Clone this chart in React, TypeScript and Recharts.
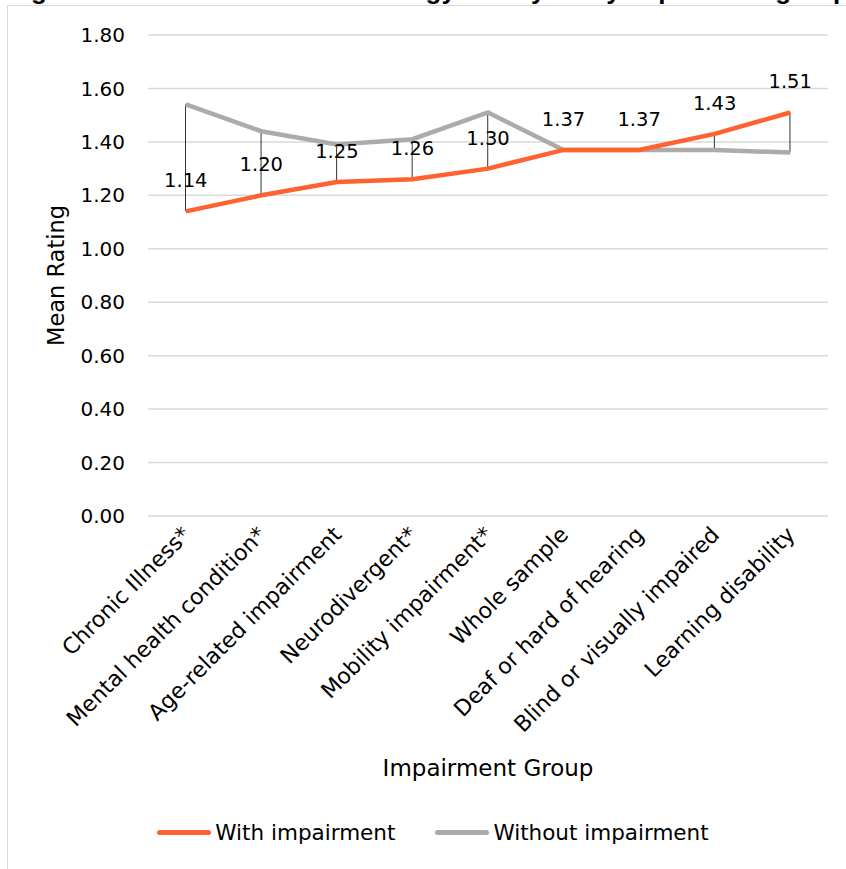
import { Bar, CartesianGrid, ComposedChart, LabelList, Legend, Line, XAxis, YAxis } from "recharts";

const groups = [
  "Chronic Illness*",
  "Mental health condition*",
  "Age-related impairment",
  "Neurodivergent*",
  "Mobility impairment*",
  "Whole sample",
  "Deaf or hard of hearing",
  "Blind or visually impaired",
  "Learning disability",
];
const withImpairment = [1.14, 1.2, 1.25, 1.26, 1.3, 1.37, 1.37, 1.43, 1.51];
const withoutImpairment = [1.54, 1.44, 1.39, 1.41, 1.51, 1.37, 1.37, 1.37, 1.36];
const yTicks = [0, 0.2, 0.4, 0.6, 0.8, 1.0, 1.2, 1.4, 1.6, 1.8];

const FONT = "'DejaVu Sans', Verdana, sans-serif";
const ORANGE = "#ff6130";
const GREY = "#aeaaaa";

const rows = groups.map((g, i) => ({
  group: g,
  withImp: withImpairment[i],
  withoutImp: withoutImpairment[i],
  span: [
    Math.min(withImpairment[i], withoutImpairment[i]),
    Math.max(withImpairment[i], withoutImpairment[i]),
  ],
}));

const GroupTick = (props: any) => {
  const { x, y, payload } = props;
  const ax = x + 6;
  const ay = y + 12;
  return (
    <text
      x={ax}
      y={ay}
      transform={`rotate(-45, ${ax}, ${ay})`}
      textAnchor="end"
      fill="#000"
      fontSize={22}
      fontFamily={FONT}
    >
      {payload.value}
    </text>
  );
};

const LegendBox = () => (
  <div
    style={{
      display: "flex",
      justifyContent: "center",
      alignItems: "center",
      fontFamily: FONT,
      fontSize: 21.5,
      color: "#000",
      paddingLeft: 38,
    }}
  >
    <span style={{ display: "inline-block", width: 54, height: 5, borderRadius: 3, background: ORANGE, marginRight: 4 }} />
    <span style={{ marginRight: 40 }}>With impairment</span>
    <span style={{ display: "inline-block", width: 54, height: 5, borderRadius: 3, background: GREY, marginRight: 4 }} />
    <span>Without impairment</span>
  </div>
);

export default function App() {
  return (
    <div style={{ position: "absolute", left: 0, top: 0, width: 846, height: 869, overflow: "hidden", background: "#fff" }}>
      {/* title sits mostly above the visible area */}
      <div
        style={{
          position: "absolute",
          left: 8,
          top: -25,
          whiteSpace: "nowrap",
          fontFamily: "'Liberation Sans', Arial, sans-serif",
          fontWeight: 700,
          fontSize: 26,
          lineHeight: "30px",
        }}
      >
        Figure 5: Mean score for technology use by every impairment group
      </div>
      <div
        style={{
          position: "absolute",
          left: 7,
          top: 5,
          width: 860,
          height: 880,
          borderLeft: "1.5px solid #d9d9d9",
          borderTop: "1.5px solid #d9d9d9",
        }}
      />
      <div style={{ position: "absolute", left: 0, top: 0 }}>
        <ComposedChart
          width={846}
          height={869}
          data={rows}
          margin={{ top: 35, right: 18, bottom: 9, left: 0 }}
        >
          <CartesianGrid vertical={false} stroke="#d9d9d9" strokeWidth={1.5} />
          <XAxis
            dataKey="group"
            interval={0}
            height={304}
            axisLine={false}
            tickLine={false}
            tick={<GroupTick />}
            label={{
              value: "Impairment Group",
              position: "insideBottom",
              offset: 44,
              fill: "#000",
              fontSize: 23,
              fontFamily: FONT,
            }}
          />
          <YAxis
            width={148}
            domain={[0, 1.8]}
            ticks={yTicks}
            axisLine={false}
            tickLine={false}
            tickSize={0}
            tickMargin={23}
            tickFormatter={(v: number) => v.toFixed(2)}
            tick={{ fill: "#000", fontSize: 20, fontFamily: FONT }}
            label={{
              value: "Mean Rating",
              angle: -90,
              position: "insideLeft",
              offset: 56,
              fill: "#000",
              fontSize: 22.5,
              fontFamily: FONT,
              style: { textAnchor: "middle" },
            }}
          />
          <Legend verticalAlign="bottom" height={40} content={<LegendBox />} />
          <Bar dataKey="span" barSize={1} fill="#333" isAnimationActive={false} legendType="none" />
          <Line
            dataKey="withoutImp"
            stroke={GREY}
            strokeWidth={4.5}
            dot={false}
            activeDot={false}
            isAnimationActive={false}
          />
          <Line
            dataKey="withImp"
            stroke={ORANGE}
            strokeWidth={4.5}
            dot={false}
            activeDot={false}
            isAnimationActive={false}
          >
            <LabelList
              dataKey="withImp"
              position="top"
              offset={24}
              formatter={(v: number) => v.toFixed(2)}
              fill="#000"
              fontSize={19.5}
              fontFamily={FONT}
            />
          </Line>
        </ComposedChart>
      </div>
    </div>
  );
}
